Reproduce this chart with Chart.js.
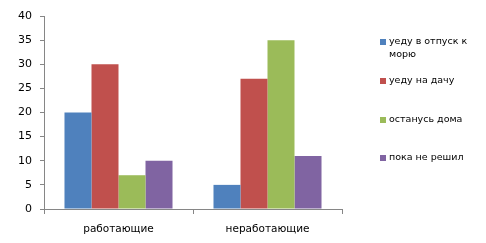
<!DOCTYPE html>
<html>
<head>
<meta charset="utf-8">
<script src="https://cdn.jsdelivr.net/npm/chart.js@4/dist/chart.umd.min.js"></script>
<style>
  html, body { margin: 0; padding: 0; background: #fff; }
  #wrap { width: 486px; height: 243px; position: relative; }
</style>
</head>
<body>
<div id="wrap"><canvas id="chart"></canvas></div>
<script>
const categories = ['работающие', 'неработающие']
const seriesNames = [['уеду в отпуск к', 'морю'], ['уеду на дачу'], ['останусь дома'], ['пока не решил']]
const seriesColors = ['#4F81BD', '#C0504D', '#9BBB59', '#8064A2']
const seriesValues = [
  [20, 5],
  [30, 27],
  [7, 35],
  [10, 11]
]
const yTicks = [0, 5, 10, 15, 20, 25, 30, 35, 40]

const FONT = 'DejaVu Sans'
const AXIS = '#868686'

// legend on the right, drawn by hand so the first label can wrap
const sideLegend = {
  id: 'sideLegend',
  afterDraw (chart) {
    const ctx = chart.ctx
    const rows = [42, 81, 120, 158]
    ctx.save()
    ctx.font = '9.5px "' + FONT + '"'
    ctx.textBaseline = 'middle'
    chart.data.datasets.forEach((ds, i) => {
      const y = rows[i]
      ctx.fillStyle = ds.backgroundColor
      ctx.fillRect(380, y - 3, 6, 6)
      ctx.fillStyle = '#000'
      ds.legendLines.forEach((line, j) => {
        ctx.fillText(line, 389, y + j * 13)
      })
    })
    ctx.restore()
  }
}

const data = {
  labels: categories,
  datasets: seriesNames.map((name, i) => ({
    label: name.join(' '),
    legendLines: name,
    data: seriesValues[i],
    backgroundColor: seriesColors[i],
    borderWidth: 0,
    categoryPercentage: 0.725,
    barPercentage: 1
  }))
}

const options = {
  responsive: true,
  maintainAspectRatio: false,
  animation: false,
  layout: { padding: { top: 16, right: 144, left: 0, bottom: 0 } },
  scales: {
    x: {
      grid: { display: true, drawOnChartArea: false, drawTicks: true, tickLength: 5, color: AXIS, offset: true },
      border: { color: AXIS },
      ticks: { color: '#000', font: { family: FONT, size: 10.5 }, padding: 9 },
      afterFit (scale) { scale.height = 34 }
    },
    y: {
      min: 0,
      max: 40,
      afterBuildTicks (scale) { scale.ticks = yTicks.map(v => ({ value: v })) },
      grid: { display: true, drawOnChartArea: false, drawTicks: true, tickLength: 4, color: AXIS },
      border: { color: AXIS },
      ticks: { color: '#000', font: { family: FONT, size: 11 }, padding: 8 },
      afterFit (scale) { scale.width = 44 }
    }
  },
  plugins: {
    legend: { display: false },
    tooltip: { enabled: false }
  }
}

new Chart(document.getElementById('chart').getContext('2d'), { type: 'bar', data, options, plugins: [sideLegend] })
</script>
</body>
</html>
